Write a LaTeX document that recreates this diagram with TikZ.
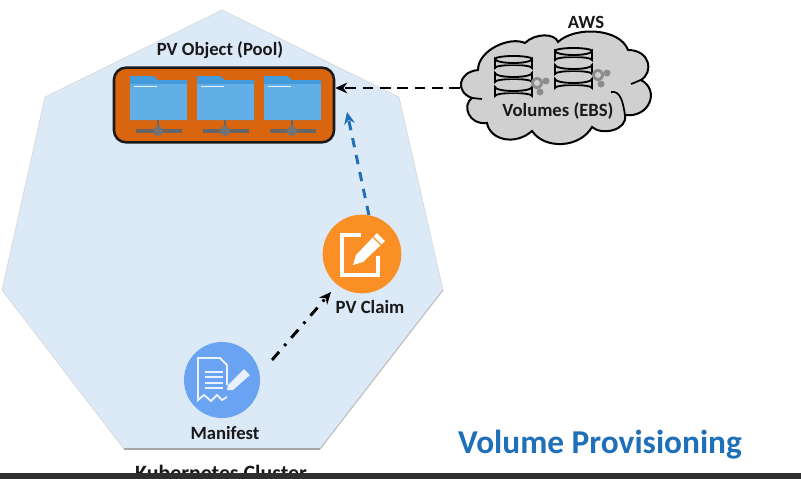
\documentclass[tikz,border=0pt]{standalone}
\usepackage{fontspec}
\setmainfont{Carlito}
\usepackage{tikz}
\usetikzlibrary{arrows.meta}

\definecolor{clusterBlue}{HTML}{DCE9F6}
\definecolor{poolOrange}{HTML}{D9660F}
\definecolor{folderBlue}{HTML}{62AEE6}
\definecolor{folderTop}{HTML}{449BDB}
\definecolor{claimOrange}{HTML}{F98F25}
\definecolor{manifestBlue}{HTML}{6AA3F2}
\definecolor{cloudGrey}{HTML}{D0D0D0}
\definecolor{titleBlue}{HTML}{1F70B8}

\tikzset{
	label text/.style = {font = \bfseries\fontsize{14}{16}\selectfont, text = black!90, inner sep = 0},
	icon circle/.style = {circle, inner sep = 0, minimum size = #1},
	link/.style = {line width = 2.2pt, -{Stealth[length = 9pt, width = 8pt]}},
	folder/.pic = {
		\fill[folderTop] (0,-11) -- (23,-11) -- (28,-7) -- (57,-7) -- (57,33) -- (0,33) -- cycle;
		\fill[folderBlue] (0,-3) -- (57,-3) -- (57,33) -- (0,33) -- cycle;
		\fill[white!85!folderBlue] (4,-1.5) rectangle (27,0);
		\draw[black!60, line width = 2pt] (28,33) -- (28,44);
		\draw[black!60, line width = 3pt] (6,44) -- (52,44);
		\fill[black!55] (28,44) circle (5);
	},
	dbstack/.pic = {
		\foreach \y in {28,14,0}
		{
			\filldraw[fill = cloudGrey, line width = 1.4pt] (0,\y+4) -- (0,\y+13) arc[start angle = 180, end angle = 360, x radius = 18.5, y radius = 3] -- (37,\y+4) arc[start angle = 0, end angle = 180, x radius = 18.5, y radius = 4] -- cycle;
		}
		\draw[line width = 1.4pt] (0,4) arc[start angle = 180, end angle = 360, x radius = 18.5, y radius = 3];
		\foreach \y in {9,23,37}
		{
			\draw[black!60, line width = 0.7pt] (10,\y) -- (27,\y);
		}
	},
	gears/.pic = {
		\fill[black!45] (0,0) circle (6);
		\fill[black!45] (9,-2) circle (3.5);
		\fill[black!45] (3,9) circle (3.5);
		\fill[cloudGrey] (0,0) circle (3);
	},
}

\begin{document}
\begin{tikzpicture}[x = 0.75pt, y = -0.75pt]
	\useasboundingbox (0,0) rectangle (801,479);

	% cluster
	\draw[fill = clusterBlue, draw = black!15, line width = 0.5pt] (222,10) -- (399,97) -- (443,290) -- (320,449) -- (124,449) -- (2,290) -- (45,97) -- cycle;
	\draw[black!35, line width = 1.2pt] (320,449) -- (124,449);
	\draw[black!25, line width = 0.8pt] (443,290) -- (320,449);

	% pool
	\node[draw = black!90, fill = poolOrange, line width = 1.9pt, rounded corners = 9pt, minimum width = 165pt, minimum height = 56pt, inner sep = 0] (pool) at (224,105) {};
	\node[label text] (poolLabel) at (220,50) {PV Object (Pool)};
	\foreach \x in {130,197,264}
	{
		\pic at (\x,87) {folder};
	}

	% cloud
	\coordinate (cloudWest) at (460,88);
	\filldraw[fill = cloudGrey, line width = 1.5pt] (478,70)
		.. controls (478,50) and (510,36) .. (525,43)
		.. controls (535,33) and (555,33) .. (558,42)
		.. controls (575,26) and (620,28) .. (628,50)
		.. controls (650,50) and (654,72) .. (641,80)
		.. controls (660,90) and (650,118) .. (625,115)
		.. controls (628,130) and (602,136) .. (592,127)
		.. controls (580,148) and (545,150) .. (532,131)
		.. controls (515,146) and (490,140) .. (487,123)
		.. controls (468,125) and (462,105) .. (472,98)
		.. controls (455,92) and (458,72) .. (478,70) -- cycle;
	\draw[line width = 1.3pt] (472,98) to[out = 10, in = 190] (482,99);
	\draw[line width = 1.3pt] (641,80) to[out = 200, in = 20] (631,84);
	\draw[line width = 1.3pt] (611,92) to[out = 10, in = 100] (625,115);
	\pic at (495,55) {dbstack};
	\pic at (555,47) {dbstack};
	\pic at (537,83) {gears};
	\pic at (598,75) {gears};
	\node[label text] (aws) at (586,22) {AWS};
	\node[label text] (volumes) at (558,111) {Volumes (EBS)};

	% claim
	\node[icon circle = 59pt, fill = claimOrange] (claim) at (362,254) {};
	\node[label text] (claimLabel) at (370,307) {PV Claim};
	\begin{scope}[shift = {(362,254)}]
		\draw[white, line width = 3.2pt] (-1,-19) -- (-20,-19) -- (-20,21) -- (16,21) -- (16,2);
		\fill[white] (-9,11) -- (-6,1) -- (15,-21) -- (23,-13) -- (1,8) -- cycle;
		\draw[claimOrange, line width = 0.8pt] (11,-17) -- (19,-9);
	\end{scope}

	% manifest
	\node[icon circle = 57pt, fill = manifestBlue] (manifest) at (222,380) {};
	\node[label text] (manifestLabel) at (225,433) {Manifest};
	\begin{scope}[shift = {(222,380)}]
		\draw[white!85!manifestBlue, line width = 1.4pt] (5,5) -- (5,-15) -- (-2,-22) -- (-24,-22) -- (-24,20) -- (-18,15) -- (-11,21) -- (-5,15) -- (0,20) -- (5,17);
		\foreach \y in {-8,-3,3,8}
		{
			\draw[white!85!manifestBlue, line width = 1pt] (-17,\y) -- (1,\y);
		}
		\fill[white!85!manifestBlue] (5,10) -- (6,5) -- (22,-11) -- (28,-5) -- (11,10) -- cycle;
	\end{scope}

	% connectors
	\draw[link, dash pattern = on 8pt off 5pt, black] (cloudWest) -- (pool.east |- cloudWest);
	\coordinate (poolBelow) at (347,112);
	\draw[link, dash pattern = on 7pt off 6pt, titleBlue] (claim.80) -- (poolBelow);
	\draw[link, dash pattern = on 8pt off 6pt on 2pt off 6pt, black] ([shift = {(23,7)}]manifest.north east) -- ([shift = {(-3,10)}]claim.south west);

	% title
	\node[font = \bfseries\fontsize{25}{30}\selectfont, text = titleBlue, inner sep = 0] (title) at (600,445) {Volume Provisioning};
	\node[font = \bfseries\fontsize{16.4}{18}\selectfont, text = black!90, inner sep = 0, anchor = base] (cluster) at (221,480) {Kubernetes Cluster};

	% taskbar
	\fill[black!82] (0,473) rectangle (801,479);
\end{tikzpicture}
\end{document}
